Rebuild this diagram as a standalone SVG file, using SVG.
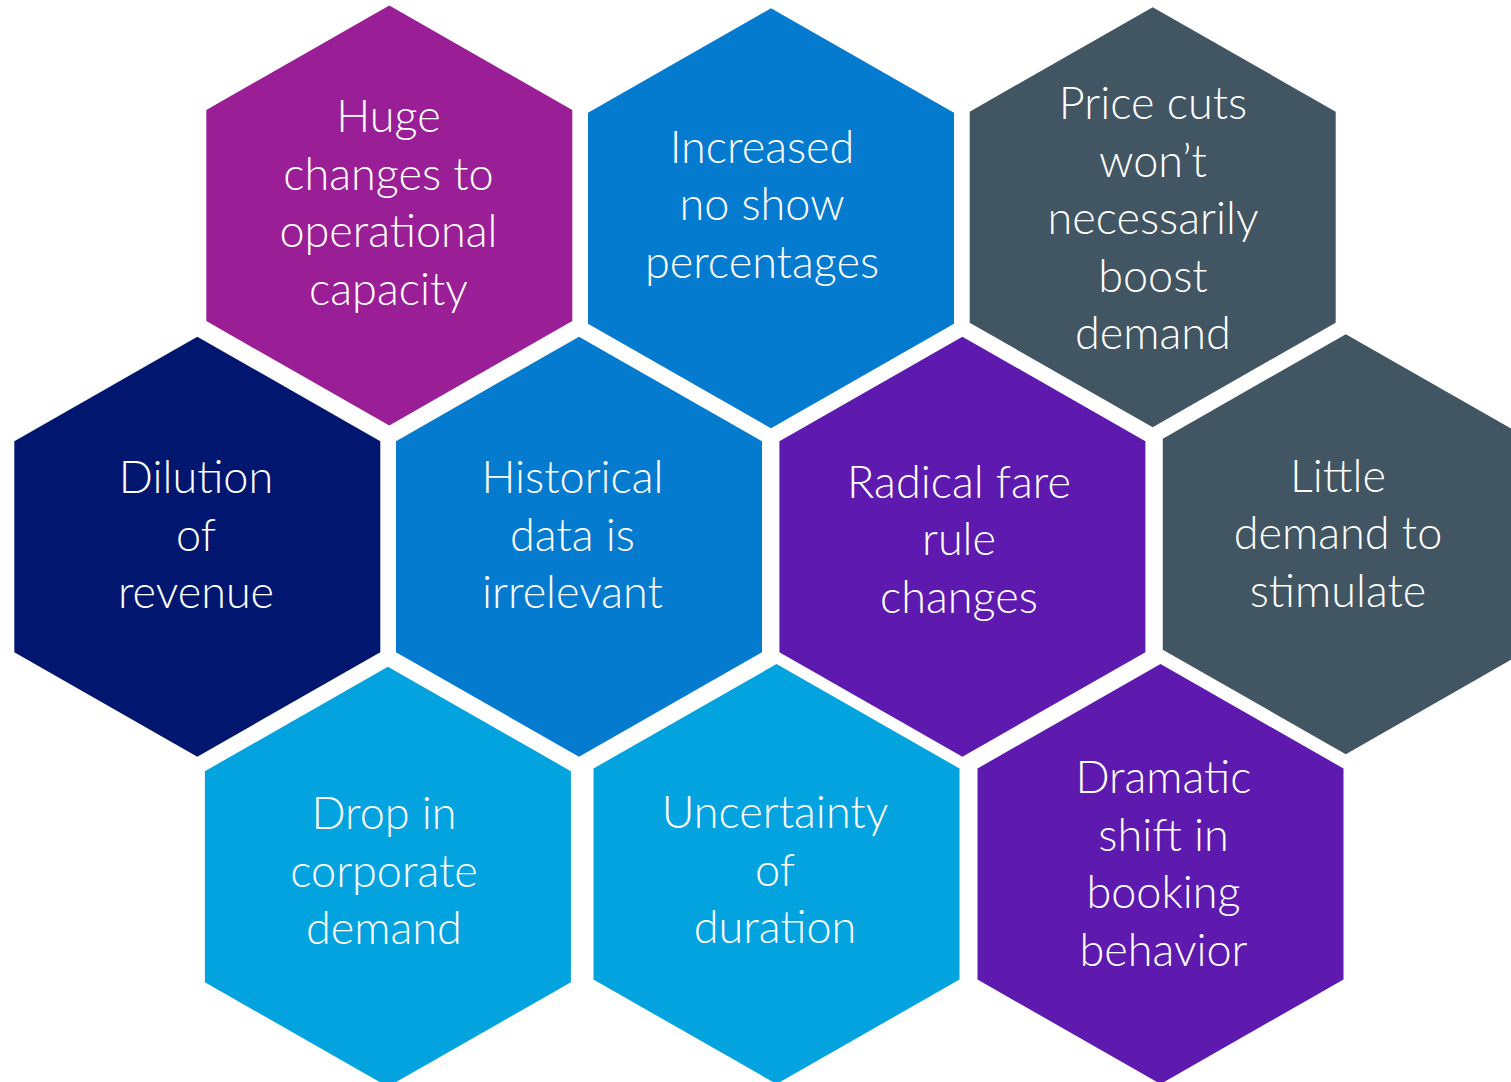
<svg xmlns="http://www.w3.org/2000/svg" xmlns:xlink="http://www.w3.org/1999/xlink" width="1511" height="1082" viewBox="0 0 1511 1082">
  <defs>
    <!-- pointy-top hexagon, centred on the origin -->
    <polygon id="hex" points="0,-210 183,-105.5 183,105.5 0,210 -183,105.5 -183,-105.5"/>
  </defs>
  <style>
    .label { font-family: Lato, "Open Sans", "Liberation Sans", sans-serif; font-weight: 300; font-size: 45px; fill: #ffffff; text-anchor: middle; }
    .magenta { fill: #9a1f96; }
    .blue { fill: #047bce; }
    .slate { fill: #415563; }
    .navy { fill: #01176f; }
    .violet { fill: #5e1aae; }
    .sky { fill: #02a3df; }
  </style>
  <rect width="1511" height="1082" fill="#ffffff"/>

  <!-- top row -->
  <g id="node-capacity">
    <use xlink:href="#hex" href="#hex" class="magenta" x="389.3" y="215.5"/>
    <text class="label"><tspan x="388.5" y="132.3">Huge</tspan><tspan x="388.5" y="189.8">changes to</tspan><tspan x="388.5" y="247.3">operational</tspan><tspan x="388.5" y="304.8">capacity</tspan></text>
  </g>
  <g id="node-no-show">
    <use xlink:href="#hex" href="#hex" class="blue" x="771" y="218.3"/>
    <text class="label"><tspan x="762" y="162.7">Increased</tspan><tspan x="762" y="220.2">no show</tspan><tspan x="762" y="277.7">percentages</tspan></text>
  </g>
  <g id="node-price-cuts">
    <use xlink:href="#hex" href="#hex" class="slate" x="1152.7" y="217.2"/>
    <text class="label"><tspan x="1153" y="119.3">Price cuts</tspan><tspan x="1153" y="176.8">won’t</tspan><tspan x="1153" y="234.3">necessarily</tspan><tspan x="1153" y="291.8">boost</tspan><tspan x="1153" y="349.3">demand</tspan></text>
  </g>

  <!-- middle row -->
  <g id="node-dilution">
    <use xlink:href="#hex" href="#hex" class="navy" x="197.3" y="546.7"/>
    <text class="label"><tspan x="196" y="493.3">Dilution</tspan><tspan x="196" y="550.8">of</tspan><tspan x="196" y="608.3">revenue</tspan></text>
  </g>
  <g id="node-historical">
    <use xlink:href="#hex" href="#hex" class="blue" x="579" y="546.7"/>
    <text class="label"><tspan x="572.5" y="493.3">Historical</tspan><tspan x="572.5" y="550.8">data is</tspan><tspan x="572.5" y="608.3">irrelevant</tspan></text>
  </g>
  <g id="node-fare-rules">
    <use xlink:href="#hex" href="#hex" class="violet" x="962.4" y="546.7"/>
    <text class="label"><tspan x="959" y="497.7">Radical fare</tspan><tspan x="959" y="555.2">rule</tspan><tspan x="959" y="612.7">changes</tspan></text>
  </g>
  <g id="node-little-demand">
    <use xlink:href="#hex" href="#hex" class="slate" x="1345.8" y="544.2"/>
    <text class="label"><tspan x="1338" y="491.7">Little</tspan><tspan x="1338" y="549.2">demand to</tspan><tspan x="1338" y="606.7">stimulate</tspan></text>
  </g>

  <!-- bottom row -->
  <g id="node-corporate">
    <use xlink:href="#hex" href="#hex" class="sky" x="387.9" y="876.7"/>
    <text class="label"><tspan x="384" y="829.3">Drop in</tspan><tspan x="384" y="886.8">corporate</tspan><tspan x="384" y="944.3">demand</tspan></text>
  </g>
  <g id="node-duration">
    <use xlink:href="#hex" href="#hex" class="sky" x="776.5" y="874"/>
    <text class="label"><tspan x="775" y="828.3">Uncertainty</tspan><tspan x="775" y="885.8">of</tspan><tspan x="775" y="943.3">duration</tspan></text>
  </g>
  <g id="node-booking">
    <use xlink:href="#hex" href="#hex" class="violet" x="1160.5" y="874"/>
    <text class="label"><tspan x="1163.5" y="793.3">Dramatic</tspan><tspan x="1163.5" y="850.8">shift in</tspan><tspan x="1163.5" y="908.3">booking</tspan><tspan x="1163.5" y="965.8">behavior</tspan></text>
  </g>

  <g id="connectors"/>
</svg>
